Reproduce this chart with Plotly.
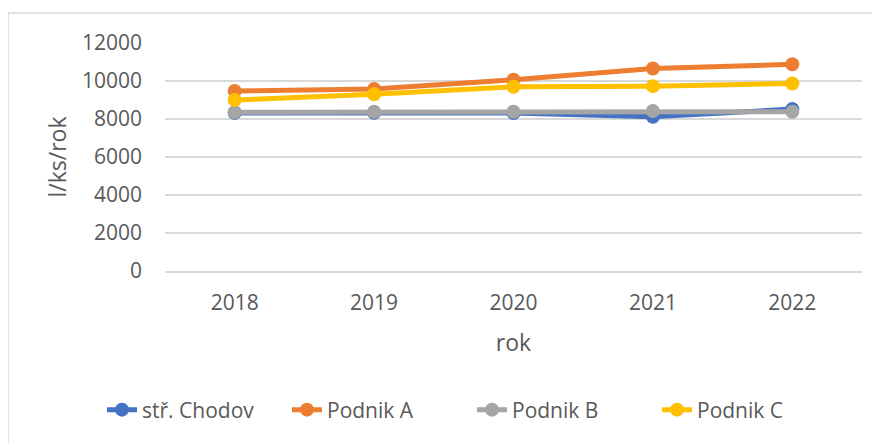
import plotly.graph_objects as go

roky = ["2018", "2019", "2020", "2021", "2022"]
chodov = [8320, 8330, 8310, 8120, 8520]
podnik_a = [9470, 9580, 10070, 10660, 10880]
podnik_b = [8360, 8380, 8380, 8420, 8380]
podnik_c = [9000, 9300, 9700, 9730, 9870]
y_ticks = [0, 2000, 4000, 6000, 8000, 10000, 12000]

serie = [
    ("stř. Chodov", chodov, "#4472C4"),
    ("Podnik A", podnik_a, "#ED7D31"),
    ("Podnik B", podnik_b, "#A5A5A5"),
    ("Podnik C", podnik_c, "#FFC000"),
]

FONT = "Open Sans"
GREY_TXT = "#595959"

fig = go.Figure()
for name, vals, col in serie:
    fig.add_trace(go.Scatter(x=roky, y=vals, name=name, mode="lines+markers",
                             line=dict(color=col, width=5),
                             marker=dict(color=col, size=14)))

# page has 8px body margin -> work in page px and shift
OFF = 8
W, H = 880, 443
# plot area in page px: x 165..862, y 43..271
L, R, T, B = 165 - OFF, W - (862 - OFF), 43 - OFF, H - (271 - OFF)
pw, ph = W - L - R, H - T - B


def px_x(p):
    return (p - OFF - L) / pw


def px_y(p):
    return (H - B - (p - OFF)) / ph


fig.update_layout(
    width=W, height=H,
    margin=dict(l=L, r=R, t=T, b=B, autoexpand=False),
    paper_bgcolor="white", plot_bgcolor="white",
    font=dict(family=FONT, size=21, color=GREY_TXT),
    showlegend=True,
    legend=dict(orientation="h", x=px_x(102), xanchor="left",
                y=px_y(410), yanchor="middle",
                font=dict(family=FONT, size=21, color=GREY_TXT),
                entrywidth=140, entrywidthmode="pixels"),
    shapes=[
        dict(type="line", xref="paper", yref="paper",
             x0=px_x(8), x1=px_x(900), y0=px_y(13), y1=px_y(13),
             line=dict(color="#d9d9d9", width=1.5)),
        dict(type="line", xref="paper", yref="paper",
             x0=px_x(8), x1=px_x(8), y0=px_y(13), y1=px_y(460),
             line=dict(color="#d9d9d9", width=1.5)),
    ],
)
fig.update_xaxes(
    type="category", range=[-0.5, len(roky) - 0.5],
    showgrid=False, showline=True, linecolor="#d9d9d9",
    linewidth=1.5, ticks="", tickfont=dict(size=21, color=GREY_TXT),
    ticklabelstandoff=12, automargin=False,
    title=dict(text="rok", font=dict(size=23, color=GREY_TXT), standoff=20),
)
fig.update_yaxes(
    range=[0, 12000], tickvals=y_ticks, ticktext=[str(v) for v in y_ticks],
    showgrid=True, gridcolor="#d9d9d9", gridwidth=1.5, zeroline=False,
    showline=False, ticks="", ticklabelstandoff=22, automargin=False,
    tickfont=dict(size=21, color=GREY_TXT),
    title=dict(text="l/ks/rok", font=dict(size=23, color=GREY_TXT), standoff=8),
)

fig.write_html("out.html")
